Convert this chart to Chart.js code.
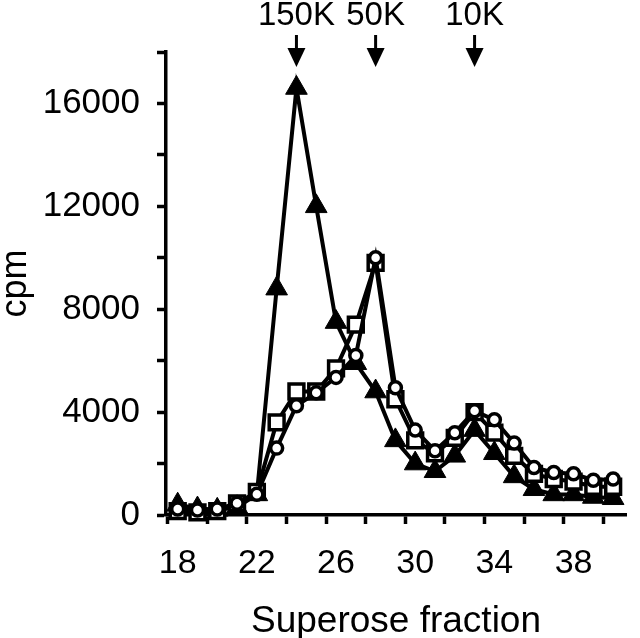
<!DOCTYPE html>
<html>
<head>
<meta charset="utf-8">
<script src="https://cdn.jsdelivr.net/npm/chart.js@4"></script>
<style>
  html, body { margin: 0; padding: 0; background: #fff; }
  #wrap { width: 640px; height: 638px; position: relative; }
</style>
</head>
<body>
<div id="wrap"><canvas id="fractionChart"></canvas></div>
<script>
// Superose fractions and cpm per fraction
const fractions = [18, 19, 20, 21, 22, 23, 24, 25, 26, 27, 28, 29, 30, 31, 32, 33, 34, 35, 36, 37, 38, 39, 40];
const triangleCpm = [400, 250, 200, 300, 800, 8800, 16600, 12000, 7500, 5900, 4800, 2900, 2000, 1700, 2300, 3300, 2400, 1500, 1000, 800, 800, 700, 650];
const squareCpm = [150, 100, 150, 450, 900, 3600, 4800, 4800, 5700, 7400, 9800, 4500, 2900, 2400, 3000, 4000, 3200, 2300, 1600, 1400, 1300, 1100, 1100];
const circleCpm = [230, 190, 230, 460, 810, 2600, 4250, 4750, 5350, 6200, 10000, 4950, 3300, 2500, 3200, 4050, 3700, 2800, 1850, 1650, 1600, 1350, 1400];

// size markers on top
const markerFractions = [24, 28, 33];
const markerLabels = ['150K', '50K', '10K'];

// axis ticks
const xLabelTicks = [18, 22, 26, 30, 34, 38];
const xMarkTicks = [17.5, 19.5, 21.5, 23.5, 25.5, 27.5, 29.5, 31.5, 33.5, 35.5, 37.5, 39.5];

const FONT = '"Liberation Sans", Arial, sans-serif';

function toPoints(values) {
  return fractions.map((f, i) => ({ x: f, y: values[i] }));
}

const sizeArrows = {
  id: 'sizeArrows',
  afterDraw(chart) {
    const ctx = chart.ctx;
    const top = chart.chartArea.top;
    ctx.save();
    ctx.fillStyle = '#000';
    ctx.strokeStyle = '#000';
    ctx.font = '33px ' + FONT;
    ctx.textAlign = 'center';
    ctx.textBaseline = 'middle';
    markerFractions.forEach((f, i) => {
      const x = chart.scales.x.getPixelForValue(f);
      ctx.fillText(markerLabels[i], x, top - 36);
      ctx.lineWidth = 3;
      ctx.beginPath();
      ctx.moveTo(x, top - 17);
      ctx.lineTo(x, top - 2);
      ctx.stroke();
      ctx.beginPath();
      ctx.moveTo(x - 9, top - 4);
      ctx.lineTo(x + 9, top - 4);
      ctx.lineTo(x, top + 15);
      ctx.closePath();
      ctx.fill();
    });
    ctx.restore();
  }
};

function makeChart() {
  const ctx = document.getElementById('fractionChart').getContext('2d');
  new Chart(ctx, {
    type: 'line',
    data: {
      datasets: [
        {
          label: 'circles',
          data: toPoints(circleCpm),
          borderColor: '#000',
          borderWidth: 4,
          pointStyle: 'circle',
          pointRadius: 6,
          pointBorderWidth: 3.5,
          pointBackgroundColor: '#fff',
          pointBorderColor: '#000',
          clip: false
        },
        {
          label: 'squares',
          data: toPoints(squareCpm),
          borderColor: '#000',
          borderWidth: 4,
          pointStyle: 'rect',
          pointRadius: 10.5,
          pointBorderWidth: 3.5,
          pointBackgroundColor: '#fff',
          pointBorderColor: '#000',
          clip: false
        },
        {
          label: 'triangles',
          data: toPoints(triangleCpm),
          borderColor: '#000',
          borderWidth: 4,
          pointStyle: 'triangle',
          pointRadius: 12.5,
          pointBorderWidth: 1,
          pointBackgroundColor: '#000',
          pointBorderColor: '#000',
          clip: false
        }
      ]
    },
    options: {
      responsive: true,
      maintainAspectRatio: false,
      animation: false,
      layout: { padding: { top: 52, right: 0, left: 0, bottom: 0 } },
      plugins: { legend: { display: false }, tooltip: { enabled: false } },
      elements: { line: { tension: 0 } },
      scales: {
        x: {
          type: 'linear',
          min: 17.41,
          max: 40.65,
          afterBuildTicks(scale) {
            const vals = xMarkTicks.concat(xLabelTicks).sort((a, b) => a - b);
            scale.ticks = vals.map(v => ({ value: v }));
          },
          afterFit(scale) { scale.height = 123; },
          border: { display: true, color: '#000', width: 3.5 },
          grid: {
            drawOnChartArea: false,
            drawTicks: true,
            tickLength: 9,
            tickWidth: 3.5,
            tickColor: c => (c.tick && c.tick.value % 1 !== 0) ? '#000' : 'rgba(0,0,0,0)'
          },
          ticks: {
            autoSkip: false,
            maxRotation: 0,
            color: '#000',
            padding: 19,
            font: { family: FONT, size: 34 },
            callback: v => (xLabelTicks.includes(v) ? String(v) : '')
          },
          title: {
            display: true,
            text: 'Superose fraction',
            color: '#000',
            font: { family: FONT, size: 37, lineHeight: 1.2 },
            padding: { top: 0, bottom: -6 }
          }
        },
        y: {
          min: 0,
          max: 18000,
          afterFit(scale) { scale.width = 166; },
          border: { display: true, color: '#000', width: 3.5 },
          grid: {
            drawOnChartArea: false,
            drawTicks: true,
            tickLength: 9,
            tickWidth: 3.5,
            tickColor: '#000'
          },
          ticks: {
            stepSize: 2000,
            autoSkip: false,
            color: '#000',
            padding: 17,
            font: { family: FONT, size: 35 },
            callback: v => (v % 4000 === 0 ? String(v) : '')
          },
          title: {
            display: true,
            text: 'cpm',
            color: '#000',
            font: { family: FONT, size: 36, lineHeight: 1 },
            padding: { top: -2, bottom: 0 }
          }
        }
      }
    },
    plugins: [sizeArrows]
  });
}

document.addEventListener('DOMContentLoaded', () => {
  makeChart();
});
</script>
</body>
</html>
